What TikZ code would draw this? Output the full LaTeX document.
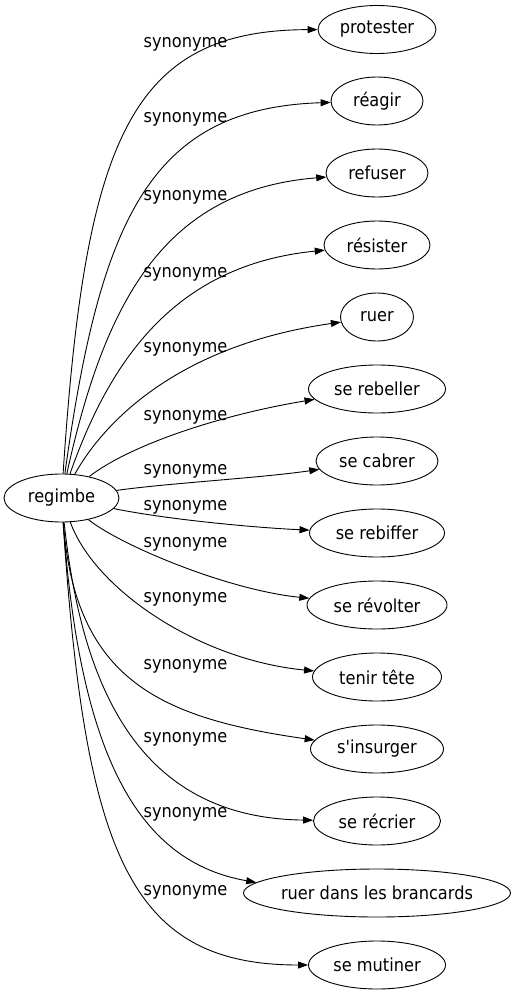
\documentclass[tikz,border=0pt]{standalone}
\usepackage{fontspec}
\setmainfont[FakeStretch=0.9,Ligatures=TeXOff]{DejaVu Sans}
\usetikzlibrary{arrows.meta,shapes.geometric}
\begin{document}
\begin{tikzpicture}[x=1pt,y=-1pt,
  every node/.style={font=\fontsize{18}{21}\selectfont},
  word/.style={draw, ellipse, minimum height=48pt, inner sep=0pt, line width=0.9pt},
  rel/.style={inner sep=0pt},
  link/.style={line width=0.9pt, -{Triangle[length=10pt,width=7pt]}}
]
\useasboundingbox (0,0) rectangle (515,995);

\node[word, minimum width=115pt] (regimbe) at (61.5,498) {regimbe};

\node[word, minimum width=118pt] (protester) at (377,29.5) {protester};
\node[word, minimum width=92pt]  (reagir)    at (377,101) {réagir};
\node[word, minimum width=102pt] (refuser)   at (377,173) {refuser};
\node[word, minimum width=106pt] (resister)  at (377,245) {résister};
\node[word, minimum width=73pt]  (ruer)      at (377,317) {ruer};
\node[word, minimum width=137pt] (rebeller)  at (377,389) {se rebeller};
\node[word, minimum width=122pt] (cabrer)    at (377,461) {se cabrer};
\node[word, minimum width=135pt] (rebiffer)  at (377,533) {se rebiffer};
\node[word, minimum width=140pt] (revolter)  at (377,605) {se révolter};
\node[word, minimum width=129pt] (tenir)     at (377,677) {tenir tête};
\node[word, minimum width=133pt] (insurger)  at (377,749) {s'insurger};
\node[word, minimum width=127pt] (recrier)   at (377,821) {se récrier};
\node[word, minimum width=267pt, inner xsep=-5pt] (brancards) at (377,893) {ruer dans les brancards};
\node[word, minimum width=137pt] (mutiner)   at (377,965) {se mutiner};

\node[rel] (l1)  at (185.5,44.5)  {synonyme};
\node[rel] (l2)  at (185.5,119.5) {synonyme};
\node[rel] (l3)  at (185.5,197.5) {synonyme};
\node[rel] (l4)  at (185.5,274.5) {synonyme};
\node[rel] (l5)  at (185.5,349.5) {synonyme};
\node[rel] (l6)  at (185.5,417.5) {synonyme};
\node[rel] (l7)  at (185.5,471)   {synonyme};
\node[rel] (l8)  at (185.5,507.5) {synonyme};
\node[rel] (l9)  at (185.5,544.5) {synonyme};
\node[rel] (l10) at (185.5,599)   {synonyme};
\node[rel] (l11) at (185.5,666)   {synonyme};
\node[rel] (l12) at (185.5,739.5) {synonyme};
\node[rel] (l13) at (185.5,814.5) {synonyme};
\node[rel] (l14) at (185.5,892)   {synonyme};

\draw[link] (regimbe) .. controls (85,140) and (130,30) .. (protester);
\draw[link] (regimbe) .. controls (100,220) and (150,108) .. (reagir);
\draw[link] (regimbe) .. controls (105,300) and (165,190) .. (refuser);
\draw[link] (regimbe) .. controls (110,360) and (175,265) .. (resister);
\draw[link] (regimbe) .. controls (105,420) and (180,345) .. (ruer);
\draw[link] (regimbe) .. controls (130,445) and (220,415) .. (rebeller);
\draw[link] (regimbe) .. controls (170,483) and (260,478) .. (cabrer);
\draw[link] (regimbe) .. controls (170,520) and (260,528) .. (rebiffer);
\draw[link] (regimbe) .. controls (120,545) and (227,590) .. (revolter);
\draw[link] (regimbe) .. controls (95,590) and (200,660) .. (tenir);
\draw[link] (regimbe) .. controls (75,680) and (160,718) .. (insurger);
\draw[link] (regimbe) .. controls (82,690) and (140,818) .. (recrier);
\draw[link] (regimbe) .. controls (80,760) and (140,862) .. (brancards.175);
\draw[link] (regimbe) .. controls (85,855) and (130,965) .. (mutiner);
\end{tikzpicture}
\end{document}
